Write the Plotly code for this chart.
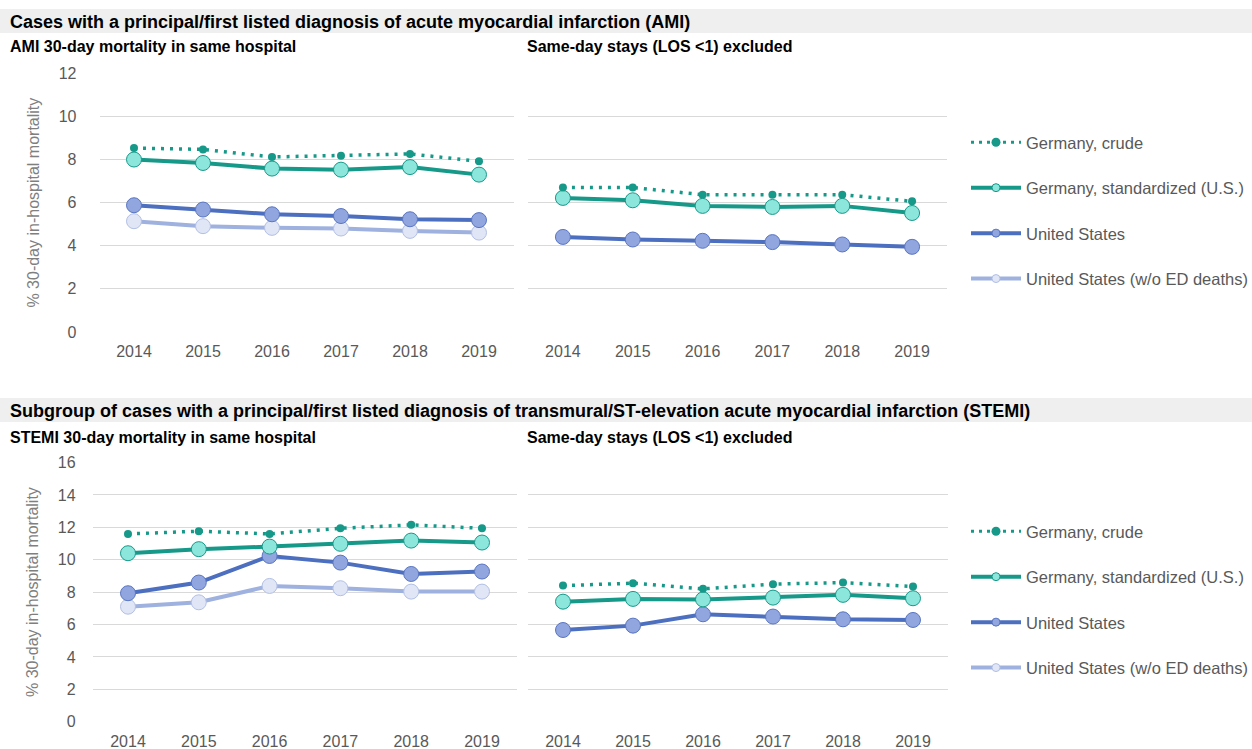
import plotly.graph_objects as go

W, H = 1252, 749

years = ["2014", "2015", "2016", "2017", "2018", "2019"]

series_names = ["Germany, crude", "Germany, standardized (U.S.)", "United States", "United States (w/o ED deaths)"]

ami_de_crude = [8.53, 8.47, 8.12, 8.18, 8.26, 7.92]
ami_de_std = [8.00, 7.84, 7.58, 7.53, 7.65, 7.30]
ami_us = [5.88, 5.68, 5.46, 5.38, 5.23, 5.19]
ami_us_noed = [5.14, 4.91, 4.83, 4.80, 4.69, 4.61]

ami_los_de_crude = [6.70, 6.70, 6.37, 6.37, 6.37, 6.06]
ami_los_de_std = [6.22, 6.11, 5.85, 5.80, 5.85, 5.52]
ami_los_us = [4.41, 4.29, 4.23, 4.17, 4.06, 3.95]

stemi_de_crude = [11.59, 11.76, 11.59, 11.94, 12.15, 11.94]
stemi_de_std = [10.40, 10.65, 10.81, 10.98, 11.18, 11.06]
stemi_us = [7.93, 8.59, 10.23, 9.82, 9.12, 9.27]
stemi_us_noed = [7.10, 7.37, 8.38, 8.24, 8.03, 8.03]

stemi_los_de_crude = [8.40, 8.55, 8.20, 8.49, 8.59, 8.34]
stemi_los_de_std = [7.41, 7.58, 7.55, 7.66, 7.83, 7.62]
stemi_los_us = [5.66, 5.93, 6.63, 6.49, 6.32, 6.28]

ami_ticks = [0, 2, 4, 6, 8, 10, 12]
stemi_ticks = [0, 2, 4, 6, 8, 10, 12, 14, 16]

TEAL = "#17998a"
STD_FILL = "#8de6dc"
US_LINE = "#4d6fbf"
US_FILL = "#91a5de"
US_BORDER = "#5a76c2"
NOED_LINE = "#9eb1df"
NOED_FILL = "#e0e6f6"
NOED_BORDER = "#b3c0e4"

styles = {
    "crude": dict(mode="lines+markers", line=dict(color=TEAL, width=3.5, dash="3px,6px"),
                  marker=dict(size=8, color=TEAL)),
    "std": dict(mode="lines+markers", line=dict(color=TEAL, width=4),
                marker=dict(size=15, color=STD_FILL, line=dict(color=TEAL, width=1))),
    "us": dict(mode="lines+markers", line=dict(color=US_LINE, width=4),
               marker=dict(size=15, color=US_FILL, line=dict(color=US_BORDER, width=1))),
    "noed": dict(mode="lines+markers", line=dict(color=NOED_LINE, width=4),
                 marker=dict(size=15, color=NOED_FILL, line=dict(color=NOED_BORDER, width=1))),
}
legend_styles = {
    "crude": dict(mode="lines+markers", line=dict(color=TEAL, width=3, dash="3px,5px"),
                  marker=dict(size=9, color=TEAL)),
    "std": dict(mode="lines+markers", line=dict(color=TEAL, width=4),
                marker=dict(size=8, color=STD_FILL, line=dict(color=TEAL, width=1))),
    "us": dict(mode="lines+markers", line=dict(color=US_LINE, width=4),
               marker=dict(size=8, color=US_FILL, line=dict(color=US_BORDER, width=1))),
    "noed": dict(mode="lines+markers", line=dict(color=NOED_LINE, width=4),
                 marker=dict(size=8, color=NOED_FILL, line=dict(color=NOED_BORDER, width=1))),
}
keys = ["crude", "std", "us", "noed"]

fig = go.Figure()

panels = [
    ("x", "y", [ami_de_crude, ami_de_std, ami_us, ami_us_noed]),
    ("x2", "y2", [ami_los_de_crude, ami_los_de_std, ami_los_us, None]),
    ("x3", "y3", [stemi_de_crude, stemi_de_std, stemi_us, stemi_us_noed]),
    ("x4", "y4", [stemi_los_de_crude, stemi_los_de_std, stemi_los_us, None]),
]
for xa, ya, data in panels:
    for k, vals in reversed(list(zip(keys, data))):
        if vals is None:
            continue
        fig.add_trace(go.Scatter(x=years, y=vals, xaxis=xa, yaxis=ya, showlegend=False,
                                 hoverinfo="skip", **styles[k]))

# legend entries (no data drawn)
for lg, xa, ya in [("legend", "x", "y"), ("legend2", "x3", "y3")]:
    for k, name in zip(keys, series_names):
        fig.add_trace(go.Scatter(x=[None], y=[None], xaxis=xa, yaxis=ya, name=name,
                                 legend=lg, legendgroup=lg + k, showlegend=True, **legend_styles[k]))

def px_x(p):
    return p / W

def px_y(p):
    return 1 - p / H

FONT = "Arial, Liberation Sans, sans-serif"
tickfont = dict(family=FONT, size=16, color="#595959")
grid = dict(showgrid=True, gridcolor="#d9d9d9", gridwidth=1, zeroline=False, showline=False,
            ticks="", automargin=False)

xcommon = dict(type="category", range=[-0.5, 5.5], tickfont=tickfont, showgrid=False,
               zeroline=False, showline=False, ticks="", ticklabelstandoff=8, automargin=False)

ytitle = dict(text="% 30-day in-hospital mortality", standoff=15,
              font=dict(family=FONT, size=16, color="#7f7f7f"))

legend_common = dict(xanchor="left", yanchor="top", traceorder="grouped", tracegroupgap=21,
                     itemwidth=50, font=dict(family=FONT, size=16.5, color="#595959"),
                     bgcolor="rgba(0,0,0,0)")

fig.update_layout(
    width=W, height=H,
    margin=dict(l=0, r=0, t=0, b=0, autoexpand=False),
    paper_bgcolor="white", plot_bgcolor="white",
    xaxis=dict(domain=[px_x(99.5), px_x(513.5)], anchor="y", **xcommon),
    xaxis2=dict(domain=[px_x(528), px_x(947)], anchor="y2", **xcommon),
    xaxis3=dict(domain=[px_x(92.6), px_x(517.4)], anchor="y3", **xcommon),
    xaxis4=dict(domain=[px_x(528), px_x(948)], anchor="y4", **xcommon),
    yaxis=dict(domain=[px_y(332), px_y(73.3)], range=[0, 12], tickvals=ami_ticks, anchor="x",
               tickfont=tickfont, ticklabelstandoff=22, title=ytitle, **grid),
    yaxis2=dict(domain=[px_y(332), px_y(73.3)], range=[0, 12], tickvals=ami_ticks, anchor="x2",
                showticklabels=False, **grid),
    yaxis3=dict(domain=[px_y(721.7), px_y(462.5)], range=[0, 16], tickvals=stemi_ticks, anchor="x3",
                tickfont=tickfont, ticklabelstandoff=16, title=ytitle, **grid),
    yaxis4=dict(domain=[px_y(721.7), px_y(462.5)], range=[0, 16], tickvals=stemi_ticks, anchor="x4",
                showticklabels=False, **grid),
    legend=dict(x=px_x(966), y=px_y(125), **legend_common),
    legend2=dict(x=px_x(966), y=px_y(514), **legend_common),
    shapes=[
        dict(type="rect", xref="paper", yref="paper", x0=0, x1=1, y0=px_y(33), y1=px_y(9),
             fillcolor="#efefef", line=dict(width=0), layer="below"),
        dict(type="rect", xref="paper", yref="paper", x0=0, x1=1, y0=px_y(422), y1=px_y(398),
             fillcolor="#efefef", line=dict(width=0), layer="below"),
    ],
)

def ann(text, x, y, size):
    fig.add_annotation(text="<b>%s</b>" % text, xref="paper", yref="paper",
                       x=px_x(x), y=px_y(y), xanchor="left", yanchor="middle",
                       showarrow=False, font=dict(family=FONT, size=size, color="#000000"))

ann("Cases with a principal/first listed diagnosis of acute myocardial infarction (AMI)", 8, 22, 18)
ann("AMI 30-day mortality in same hospital", 8, 47, 16)
ann("Same-day stays (LOS &lt;1) excluded", 525, 47, 16)
ann("Subgroup of cases with a principal/first listed diagnosis of transmural/ST-elevation acute myocardial infarction (STEMI)", 8, 411, 18)
ann("STEMI 30-day mortality in same hospital", 8, 437, 16)
ann("Same-day stays (LOS &lt;1) excluded", 525, 437, 16)

fig.write_html("out.html")
